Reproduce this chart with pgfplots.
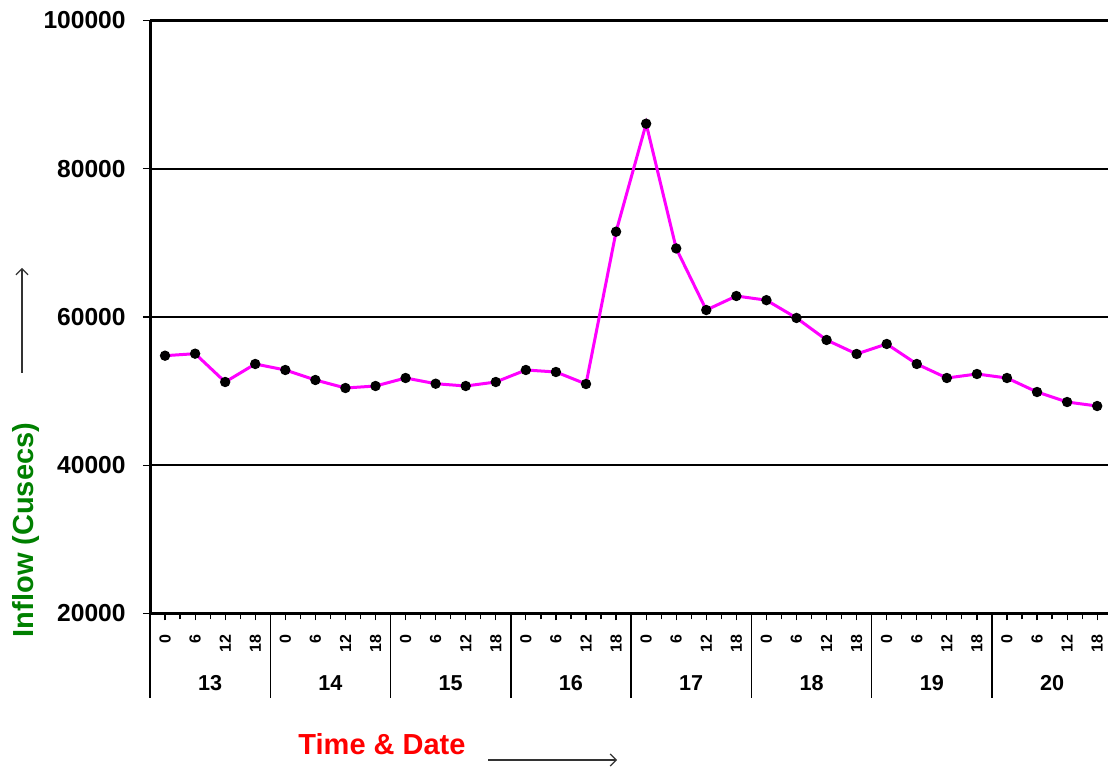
\documentclass[border=0pt]{standalone}
\usepackage{pgfplots}
\pgfplotsset{compat=1.18}
\usetikzlibrary{arrows.meta}
\usepackage{fontspec}
\setmainfont{Liberation Sans}
\definecolor{lblgreen}{HTML}{008000}
\definecolor{lblred}{HTML}{FF0000}
\definecolor{linemag}{HTML}{FF00FF}
\definecolor{arrgray}{HTML}{333333}
\begin{document}
\begin{tikzpicture}
\begin{axis}[
  scale only axis,
  width=479pt, height=296.5pt,
  xmin=-0.5, xmax=31.36,
  ymin=20000, ymax=100000,
  axis lines=left,
  axis line style={-, line width=1.5pt, black},
  clip=false,
  scaled y ticks=false,
  ytick={20000,40000,60000,80000,100000},
  yticklabels={20000,40000,60000,80000,100000},
  yticklabel style={font=\fontsize{12.3}{14}\selectfont\bfseries, anchor=east, inner sep=0pt, xshift=-8.5pt},
  ymajorgrids,
  grid style={black, line width=0.8pt},
  xtick={0,...,31},
  xticklabels={0,6,12,18,0,6,12,18,0,6,12,18,0,6,12,18,0,6,12,18,0,6,12,18,0,6,12,18,0,6,12,18},
  xticklabel style={font=\fontsize{8}{9}\selectfont\bfseries, inner sep=0pt, yshift=-7pt, anchor=east, rotate=90},
  minor xtick={-0.5,0.5,...,31.5},
  tick align=outside,
  major tick length=3.5pt, minor tick length=3pt,
  tick style={black, line width=0.6pt},
]
\addplot[linemag, line width=1.5pt, mark=*, mark size=1.8pt, mark options={fill=black, draw=black}] coordinates {
(0,54780) (1,55050) (2,51230) (3,53660) (4,52850) (5,51500) (6,50420) (7,50690)
(8,51770) (9,51000) (10,50690) (11,51230) (12,52850) (13,52580) (14,50960) (15,71510)
(16,86080) (17,69250) (18,60940) (19,62830) (20,62270) (21,59870) (22,56900) (23,55010)
(24,56360) (25,53660) (26,51770) (27,52310) (28,51770) (29,49880) (30,48530) (31,47990)
};
\coordinate (ll) at (rel axis cs:0,0);
\draw[black, line width=1.5pt] (rel axis cs:0,1) -- (rel axis cs:1,1);
\draw[black, line width=0.7pt] (axis cs:-0.5,20000) -- ++(0pt,-42.25pt);
\draw[black, line width=0.7pt] (axis cs:3.5,20000) -- ++(0pt,-42.25pt);
\draw[black, line width=0.7pt] (axis cs:7.5,20000) -- ++(0pt,-42.25pt);
\draw[black, line width=0.7pt] (axis cs:11.5,20000) -- ++(0pt,-42.25pt);
\draw[black, line width=0.7pt] (axis cs:15.5,20000) -- ++(0pt,-42.25pt);
\draw[black, line width=0.7pt] (axis cs:19.5,20000) -- ++(0pt,-42.25pt);
\draw[black, line width=0.7pt] (axis cs:23.5,20000) -- ++(0pt,-42.25pt);
\draw[black, line width=0.7pt] (axis cs:27.5,20000) -- ++(0pt,-42.25pt);
\node[font=\fontsize{10.8}{12}\selectfont\bfseries] at ([yshift=-34.75pt]axis cs:1.5,20000) {13};
\node[font=\fontsize{10.8}{12}\selectfont\bfseries] at ([yshift=-34.75pt]axis cs:5.5,20000) {14};
\node[font=\fontsize{10.8}{12}\selectfont\bfseries] at ([yshift=-34.75pt]axis cs:9.5,20000) {15};
\node[font=\fontsize{10.8}{12}\selectfont\bfseries] at ([yshift=-34.75pt]axis cs:13.5,20000) {16};
\node[font=\fontsize{10.8}{12}\selectfont\bfseries] at ([yshift=-34.75pt]axis cs:17.5,20000) {17};
\node[font=\fontsize{10.8}{12}\selectfont\bfseries] at ([yshift=-34.75pt]axis cs:21.5,20000) {18};
\node[font=\fontsize{10.8}{12}\selectfont\bfseries] at ([yshift=-34.75pt]axis cs:25.5,20000) {19};
\node[font=\fontsize{10.8}{12}\selectfont\bfseries] at ([yshift=-34.75pt]axis cs:29.5,20000) {20};
\end{axis}
\begin{scope}[shift={(ll)}]
\node[rotate=90, text=lblgreen, font=\fontsize{14.5}{16}\selectfont\bfseries] at (-62pt,41.75pt) {Inflow (Cusecs)};
\draw[arrgray, line width=0.6pt, -{Straight Barb[length=3pt,width=6pt]}] (-64pt,120.25pt) -- (-64pt,172.75pt);
\node[text=lblred, font=\fontsize{14.5}{16}\selectfont\bfseries] at (116pt,-65.25pt) {Time \& Date};
\draw[arrgray, line width=0.6pt, -{Straight Barb[length=3pt,width=6pt]}] (169pt,-73.25pt) -- (233.5pt,-73.25pt);
\end{scope}
\pgfresetboundingbox
\path[use as bounding box] ([shift={(-75pt,-78.25pt)}]ll) rectangle ([shift={(479pt,306.75pt)}]ll);
\end{tikzpicture}
\end{document}
